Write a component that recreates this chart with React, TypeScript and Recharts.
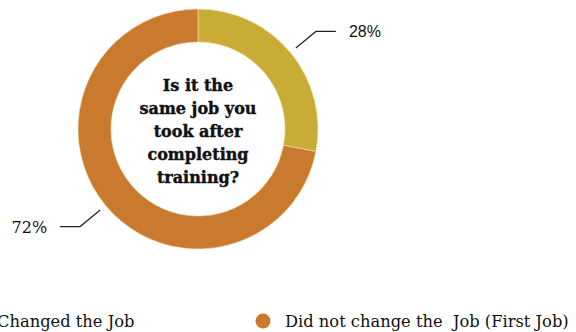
import React from "react";
import { PieChart, Pie, Cell, Legend } from "recharts";

const categories = ["Changed the Job", "Did not change the  Job (First Job)"];
const values = [28, 72];
const colors = ["#C9AC36", "#C97A2F"];
const titleLines = ["Is it the", "same job you", "took after", "completing", "training?"];

const data = categories.map((name, i) => ({ name, value: values[i] }));
const RAD = Math.PI / 180;

const renderLabel = (props: any) => {
  const { cx, cy, midAngle, outerRadius, value, index } = props;
  const cos = Math.cos(-midAngle * RAD);
  const sin = Math.sin(-midAngle * RAD);
  const sx = cx + (outerRadius + 7) * cos;
  const sy = cy + (outerRadius + 7) * sin;
  const mx = cx + (outerRadius + 33) * cos;
  const my = cy + (outerRadius + 33) * sin;
  const dir = cos >= 0 ? 1 : -1;
  const ex = mx + dir * 20;
  const tx = ex + dir * 13;
  const sans = index === 0;
  return (
    <g>
      <polyline points={`${sx},${sy} ${mx},${my} ${ex},${my}`} fill="none" stroke="#222" strokeWidth={1.2} />
      <text
        x={tx}
        y={my}
        dy={6}
        textAnchor={dir > 0 ? "start" : "end"}
        fill="#111"
        fontSize={16}
        fontFamily={sans ? "Liberation Sans, Arial, sans-serif" : "DejaVu Serif, serif"}
      >
        {`${value}%`}
      </text>
    </g>
  );
};

const renderLegend = () => (
  <svg width={576} height={30} style={{ overflow: "visible" }}>
    {categories.map((c, i) => {
      const x = i === 0 ? -3 : 285;
      return (
        <g key={c}>
          <circle cx={x - 22} cy={14} r={7.5} fill={colors[i]} />
          <text x={x} y={20} fontSize={16.3} fill="#111" fontFamily="DejaVu Serif, serif" style={{ whiteSpace: "pre" }}>
            {c}
          </text>
        </g>
      );
    })}
  </svg>
);

export default function App() {
  return (
    <div style={{ position: "absolute", left: 0, top: 0, width: 576, height: 332, background: "#fff" }}>
      <PieChart width={576} height={332} margin={{ top: 0, right: 0, bottom: 0, left: 0 }}>
        <Pie
          data={data}
          dataKey="value"
          nameKey="name"
          cx={198}
          cy={129}
          outerRadius={120}
          innerRadius={87}
          startAngle={90}
          endAngle={-270}
          stroke="#f3e3b0"
          strokeWidth={0.6}
          isAnimationActive={false}
          labelLine={false}
          label={renderLabel}
        >
          {data.map((d, i) => (
            <Cell key={d.name} fill={colors[i]} />
          ))}
        </Pie>
        <text textAnchor="middle" fontFamily="DejaVu Serif, serif" fontWeight="bold" fontSize={16} fill="#111" stroke="#111" strokeWidth={0.4}>
          {titleLines.map((l, i) => (
            <tspan key={l} x={198} y={91 + i * 23}>
              {l}
            </tspan>
          ))}
        </text>
        <Legend
          content={renderLegend}
          wrapperStyle={{ position: "absolute", left: 0, top: 307, width: 576, height: 30 }}
        />
      </PieChart>
    </div>
  );
}
